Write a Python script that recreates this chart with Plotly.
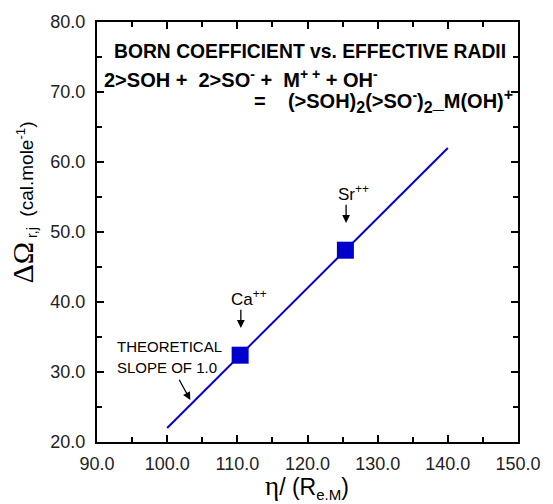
import plotly.graph_objects as go

# data
line_x = [100.0, 140.0]
line_y = [22.0, 62.0]
ion_names = ["Ca", "Sr"]
ion_x = [110.4, 125.4]
ion_y = [32.4, 47.4]
x_ticks = [90, 100, 110, 120, 130, 140, 150]
y_ticks = [20, 30, 40, 50, 60, 70, 80]

BLUE = "#0000CC"
SANS = "Liberation Sans, Arial, sans-serif"
SERIF = "Liberation Serif, Times New Roman, serif"

fig = go.Figure()
fig.add_trace(go.Scatter(x=line_x, y=line_y, mode="lines",
                         line=dict(color=BLUE, width=2), showlegend=False))
fig.add_trace(go.Scatter(x=ion_x, y=ion_y, mode="markers",
                         marker=dict(symbol="square", size=17, color=BLUE),
                         showlegend=False))

axis_common = dict(
    showline=True, linecolor="black", linewidth=2, mirror="ticks",
    ticks="inside", ticklen=7, tickwidth=1.5, tickcolor="black",
    showgrid=False, zeroline=False, tickformat=".1f",
    tickfont=dict(family=SANS, size=18, color="#222"),
    minor=dict(ticks="inside", ticklen=5, tickwidth=1.5, tickcolor="black", dtick=5, showgrid=False),
)
fig.update_xaxes(range=[90, 150], tickvals=x_ticks, ticklabelstandoff=4, **axis_common)
fig.update_yaxes(range=[20, 80], tickvals=y_ticks, ticklabelstandoff=6, **axis_common)

S = "<span style='font-size:16px'>%s</span>"

ann = []
# header text
ann.append(dict(xref="paper", yref="paper", x=(315 - 97) / 430, y=(442 - 52) / 420,
                text="<b>BORN COEFFICIENT vs. EFFECTIVE RADII</b>", showarrow=False,
                xanchor="center", yanchor="middle", font=dict(family=SANS, size=19.3, color="black")))
ann.append(dict(xref="paper", yref="paper", x=(102 - 97) / 430, y=(442 - 79) / 420,
                text="<b>2&gt;SOH +&nbsp; 2&gt;SO<sup>-</sup> +&nbsp; M<sup>+ +</sup> + OH<sup>-</sup></b>",
                showarrow=False, xanchor="left", yanchor="middle",
                font=dict(family=SANS, size=20, color="black")))
ann.append(dict(xref="paper", yref="paper", x=(524 - 97) / 430, y=(442 - 101) / 420,
                text=("<b>=&nbsp;&nbsp;&nbsp; (&gt;SOH)<sub>" + S % "2" + "</sub>(&gt;SO<sup>-</sup>)<sub>"
                      + S % "2" + "</sub>_M(OH)<sup>" + S % "+" + "</sup></b>"),
                showarrow=False, xanchor="right", yanchor="middle",
                font=dict(family=SANS, size=20, color="black")))

# ion labels with arrows
lab_dx = [1.3, 1.1]
for name, xv, yv, dx in zip(ion_names, ion_x, ion_y, lab_dx):
    ann.append(dict(x=xv + 0.1, y=yv + 3.9, ax=xv + 0.1, ay=yv + 6.7, xref="x", yref="y",
                    axref="x", ayref="y", text="", showarrow=True, arrowhead=2,
                    arrowsize=1.2, arrowwidth=1.3, arrowcolor="black"))
    ann.append(dict(x=xv + dx, y=yv + 8.2, xref="x", yref="y", showarrow=False,
                    text=name + "<sup>++</sup>", xanchor="center", yanchor="middle",
                    font=dict(family=SANS, size=17, color="black")))

# theoretical slope label
ann.append(dict(x=92.55, y=33.6, xref="x", yref="y", text="THEORETICAL", showarrow=False,
                xanchor="left", yanchor="middle", font=dict(family=SANS, size=15, color="black")))
ann.append(dict(x=92.55, y=30.6, xref="x", yref="y", text="SLOPE OF 1.0", showarrow=False,
                xanchor="left", yanchor="middle", font=dict(family=SANS, size=15, color="black")))
ann.append(dict(x=103.3, y=26.0, ax=101.6, ay=29.1, xref="x", yref="y", axref="x", ayref="y",
                text="", showarrow=True, arrowhead=2, arrowsize=1.2, arrowwidth=1.3,
                arrowcolor="black"))

# axis titles
ann.append(dict(xref="paper", yref="paper", x=(21 - 97) / 430, y=(442 - 203) / 420,
                textangle=-90, showarrow=False, xanchor="center", yanchor="middle",
                text=("<span style='font-family:Liberation Serif;font-size:30px'>ΔΩ</span>"
                      "<sub><span style='font-size:14px'> r,j</span></sub>"
                      "<span style='font-size:19px'>&nbsp; (cal.mole<sup>-1</sup>)</span>"),
                font=dict(family=SANS, size=19, color="black")))
ann.append(dict(xref="paper", yref="paper", x=(311 - 97) / 430, y=(442 - 487) / 420,
                showarrow=False, xanchor="center", yanchor="middle",
                text=("<span style='font-family:Liberation Serif;font-size:27px'>η</span>"
                      "/ (R<sub><span style='font-size:15px'>e.M</span></sub>)"),
                font=dict(family=SANS, size=23, color="black")))

fig.update_layout(
    width=553, height=504,
    margin=dict(l=97, r=26, t=22, b=62),
    paper_bgcolor="white", plot_bgcolor="white",
    annotations=ann, showlegend=False,
)

fig.write_html("out.html")
